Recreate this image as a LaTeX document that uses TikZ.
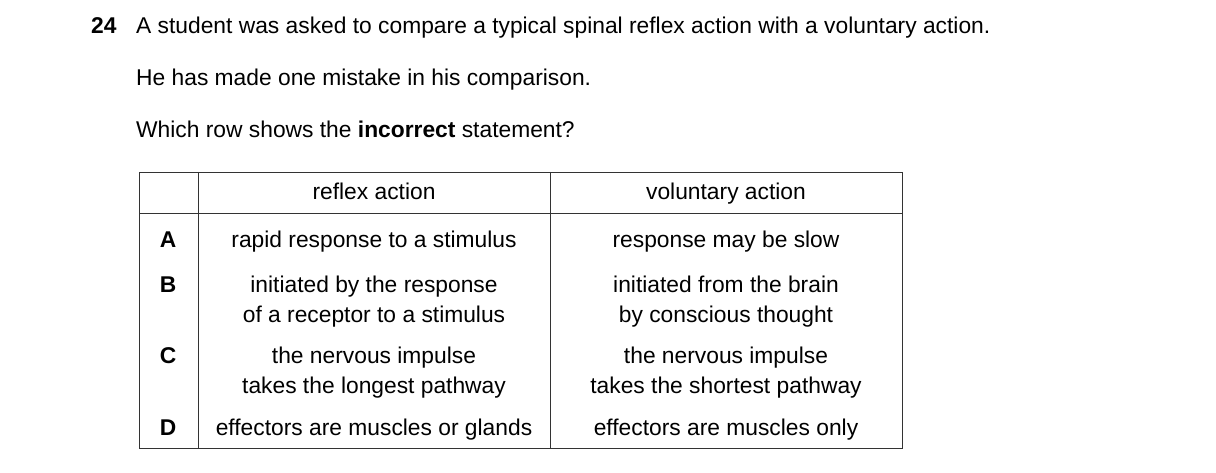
\documentclass[tikz,border=0pt]{standalone}
\usepackage{fontspec}
\setmainfont{Liberation Sans}
\begin{document}
\begin{tikzpicture}[x=1pt,y=-1pt,
  t/.style={font=\fontsize{22.8}{30}\selectfont,inner sep=0pt,anchor=base},
  tl/.style={t,anchor=base west},
  line/.style={line width=0.8pt,black!80}]
\useasboundingbox (0,0) rectangle (1216,473);
\node[tl] (num) at (91,34) {\textbf{24}};
\node[tl] (q1) at (136,34) {A student was asked to compare a typical spinal reflex action with a voluntary action.};
\node[tl] (q2) at (136,86) {He has made one mistake in his comparison.};
\node[tl] (q3) at (136,138) {Which row shows the \textbf{incorrect} statement?};
\draw[line] (139,172) rectangle (902,448);
\draw[line] (139,213) -- (902,213);
\draw[line] (198,172) -- (198,448);
\draw[line] (550,172) -- (550,448);
\node[t] (h1) at (374,200) {reflex action};
\node[t] (h2) at (726,200) {voluntary action};
\node[t] (la) at (168,248) {\textbf{A}};
\node[t] (a1) at (374,248) {rapid response to a stimulus};
\node[t] (a2) at (726,248) {response may be slow};
\node[t] (lb) at (168,292) {\textbf{B}};
\node[t] (b1) at (374,292) {initiated by the response};
\node[t] (b1b) at (374,323) {of a receptor to a stimulus};
\node[t] (b2) at (726,292) {initiated from the brain};
\node[t] (b2b) at (726,323) {by conscious thought};
\node[t] (lc) at (168,363) {\textbf{C}};
\node[t] (c1) at (374,363) {the nervous impulse};
\node[t] (c1b) at (374,393) {takes the longest pathway};
\node[t] (c2) at (726,363) {the nervous impulse};
\node[t] (c2b) at (726,393) {takes the shortest pathway};
\node[t] (ld) at (168,435) {\textbf{D}};
\node[t] (d1) at (374,435) {effectors are muscles or glands};
\node[t] (d2) at (726,435) {effectors are muscles only};
\end{tikzpicture}
\end{document}
